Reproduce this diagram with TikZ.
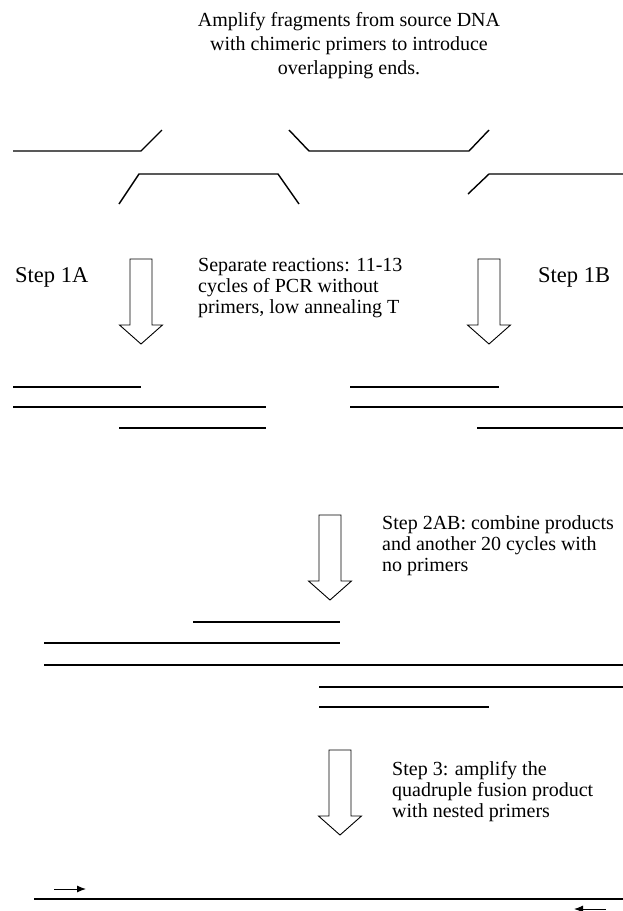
\documentclass[tikz,border=0pt]{standalone}
\usepackage{fontspec}
\setmainfont{Liberation Serif}
\usetikzlibrary{arrows.meta}
\begin{document}
\begin{tikzpicture}[x=1pt,y=-1pt,
  dna/.style={line width=1.8pt,line cap=butt,line join=miter},
  frag/.style={line width=1.4pt,line cap=butt,line join=miter},
  arrowline/.style={line width=0.9pt,line join=miter,fill=white},
  bodytext/.style={font=\fontsize{20}{21}\selectfont,align=left,inner sep=0pt,anchor=west},
  steptext/.style={font=\fontsize{22.5}{24}\selectfont,inner sep=0pt,anchor=west},
  primer/.style={line width=1pt,-{Latex[length=9pt,width=7pt]}},
  downarrow/.pic={\draw[arrowline] (-11,0) -- (11,0) -- (11,66) -- (21.5,66) -- (0,85) -- (-21.5,66) -- (-11,66) -- cycle;}
]
\useasboundingbox (0,0) rectangle (623,911);

% title
\node[font=\fontsize{20}{24}\selectfont,align=center,inner sep=0pt] (title) at (349,46)
  {Amplify fragments from source DNA\\with chimeric primers to introduce\\overlapping ends.};

% source fragments
\draw[frag] (13,151) -- (141,151) -- (162,130);
\draw[frag] (119,204) -- (139,174) -- (278,174) -- (299,204);
\draw[frag] (289,130) -- (309,151) -- (469,151) -- (489,130);
\draw[frag] (468,194) -- (489,174) -- (623,174);

% step 1
\node[steptext] (s1a) at (15,277) {Step 1A};
\node[steptext] (s1b) at (538,277) {Step 1B};
\node[bodytext] (sep) at (198,288) {Separate reactions: 11-13\\cycles of PCR without\\primers, low annealing T};
\pic at (141,259) {downarrow};
\pic at (489,259) {downarrow};

% step 1 products
\draw[dna] (13,387) -- (141,387);
\draw[dna] (13,407) -- (266,407);
\draw[dna] (119,428) -- (266,428);
\draw[dna] (350,387) -- (499,387);
\draw[dna] (350,407) -- (623,407);
\draw[dna] (477,428) -- (623,428);

% step 2
\pic at (330,515) {downarrow};
\node[bodytext] (s2) at (382,546) {Step 2AB: combine products\\and another 20 cycles with\\no primers};

\draw[dna] (193,622) -- (340,622);
\draw[dna] (44,643) -- (340,643);
\draw[dna] (44,665) -- (623,665);
\draw[dna] (319,687) -- (623,687);
\draw[dna] (319,707) -- (489,707);

% step 3
\pic at (340,750) {downarrow};
\node[bodytext] (s3) at (392,792) {Step 3: amplify the\\quadruple fusion product\\with nested primers};

\draw[dna] (34,899) -- (623,899);
\coordinate (fa) at (54,889);
\coordinate (fb) at (86,889);
\coordinate (ra) at (606,909);
\coordinate (rb) at (574,909);
\draw[primer] (fa) -- (fb);
\draw[primer] (ra) -- (rb);
\end{tikzpicture}
\end{document}
